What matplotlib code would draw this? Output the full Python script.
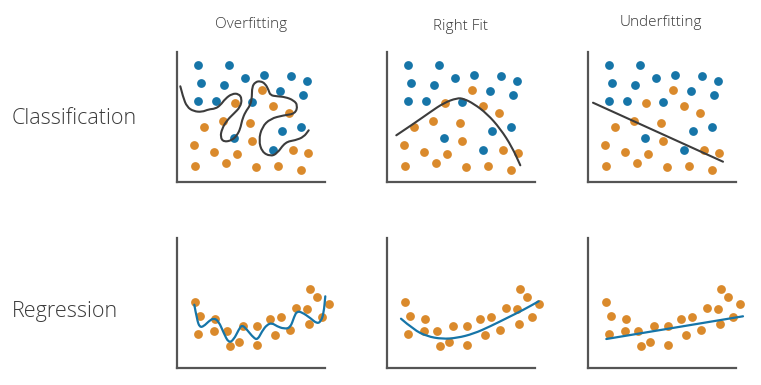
"""
Overfitting / right fit / underfitting for classification and regression.
"""
import matplotlib.pyplot as plt
from matplotlib.path import Path
from matplotlib.patches import PathPatch

# ── Data (panel units: x 0..148, y 0..130) ────────────────────────────────────
col_titles = ["Overfitting", "Right Fit", "Underfitting"]
row_titles = ["Classification", "Regression"]

blue_x = [20.7, 52.3, 24.0, 47.3, 68.3, 86.7, 114.0, 130.0, 102.7, 126.0,
          20.7, 39.3, 75.0, 105.0, 124.3, 56.7, 96.0]
blue_y = [116.7, 116.7, 99.0, 96.7, 104.3, 106.7, 106.0, 101.0, 91.0, 87.3,
          80.7, 80.7, 80.0, 51.0, 55.0, 44.0, 31.7]
orange_x = [85.0, 58.3, 95.7, 112.3, 27.3, 46.0, 72.7, 17.3, 75.0, 37.3,
            60.0, 115.7, 131.0, 18.3, 49.3, 79.3, 101.0, 124.3]
orange_y = [92.3, 79.0, 76.3, 69.3, 55.0, 61.0, 59.0, 36.7, 40.7, 30.0,
            27.7, 31.7, 29.3, 16.0, 19.0, 15.0, 15.7, 12.0]

# classification boundaries (control points)
over_cx = [3.3, 6.0, 10.0, 16.7, 25.0, 31.7, 38.3, 43.3, 48.3, 55.0, 61.7, 65.0,
           63.3, 56.7, 50.0, 45.0, 43.3, 46.7, 55.0, 60.0, 63.3, 65.0, 68.3, 73.3,
           75.0, 75.0, 78.3, 83.3, 88.3, 91.7, 93.3, 100.0, 108.3, 116.7, 120.7,
           118.3, 106.7, 93.3, 85.0, 81.7, 85.0, 93.3, 100.0, 108.3, 118.3, 126.7,
           131.7]
over_cy = [95.7, 85.0, 75.0, 70.7, 70.0, 72.7, 73.3, 76.7, 83.3, 88.3, 88.3, 83.3,
           75.0, 68.3, 61.7, 53.3, 45.0, 40.0, 41.7, 46.7, 53.3, 61.7, 70.0, 76.7,
           85.0, 95.0, 100.0, 101.0, 98.3, 91.7, 86.7, 85.7, 85.0, 81.7, 76.7,
           68.3, 66.7, 63.3, 55.0, 41.7, 30.0, 25.7, 28.3, 40.0, 41.7, 45.0,
           51.7]
right_cx = [9.3, 26.7, 43.3, 56.7, 70.0, 76.7, 86.7, 100.0, 113.3, 125.0, 133.3]
right_cy = [46.7, 58.3, 70.0, 79.0, 84.0, 83.3, 78.3, 68.3, 53.3, 35.0, 16.7]
under_cx = [5.0, 135.0]
under_cy = [79.3, 20.3]

# regression points
reg_x = [18.3, 23.3, 21.0, 38.3, 37.3, 50.0, 52.7, 61.7, 65.7, 80.0, 80.0,
         93.3, 97.7, 104.0, 113.3, 119.0, 130.0, 132.3, 132.7, 140.0, 145.0, 151.7]
reg_y = [66.0, 51.7, 34.3, 49.0, 36.7, 37.3, 21.7, 25.7, 42.3, 41.7, 22.7,
         49.0, 33.3, 51.0, 38.3, 60.0, 59.0, 44.0, 79.3, 71.0, 51.0, 63.7]

# regression fits (control points)
over_rx = [17.3, 20.0, 22.7, 26.7, 31.7, 36.7, 41.7, 46.7, 51.7, 56.7, 61.7, 65.0,
           70.0, 76.7, 80.7, 85.0, 90.0, 95.0, 100.0, 106.7, 113.3, 117.3, 120.0,
           125.0, 133.3, 140.0, 144.0, 146.7, 148.3]
over_ry = [63.3, 48.3, 40.7, 41.7, 46.7, 50.0, 46.7, 35.0, 25.0, 28.3, 38.3, 43.3,
           38.3, 30.0, 28.3, 36.7, 43.3, 45.0, 41.7, 39.3, 40.0, 51.7, 56.7,
           55.7, 50.0, 44.3, 46.7, 55.0, 71.7]
right_rx = [14.0, 26.7, 40.0, 55.0, 70.0, 86.7, 103.3, 120.0, 136.7, 151.7]
right_ry = [49.3, 38.3, 31.7, 29.0, 30.0, 34.3, 41.7, 50.0, 58.3, 66.7]
under_rx = [18.3, 155.0]
under_ry = [29.0, 51.7]

# ── Style ─────────────────────────────────────────────────────────────────────
BLUE = "#1675a8"
ORANGE = "#da8a2c"
DARK = "#3c3c3c"
TEXT = "#3a3a3a"
FONT = ["Open Sans", "DejaVu Sans"]

W, H = 761, 385
fig = plt.figure(figsize=(W / 100, H / 100), dpi=100)
fig.patch.set_facecolor("white")

col_x = [177, 387, 588]
row_top = [52, 238]
PW, PH = 148, 130


def panel(px, ptop):
    ax = fig.add_axes([px / W, 1 - (ptop + PH) / H, PW / W, PH / H])
    ax.set_xlim(0, 148)
    ax.set_ylim(0, 130)
    ax.set_xticks([])
    ax.set_yticks([])
    for s in ("top", "right"):
        ax.spines[s].set_visible(False)
    for s in ("left", "bottom"):
        ax.spines[s].set_color("#555555")
        ax.spines[s].set_linewidth(1.6)
    ax.patch.set_alpha(0)
    return ax


def smooth_line(ax, xs, ys, color, lw):
    # quadratic bezier through the midpoints, control points as given
    pts = list(zip(xs, ys))
    if len(pts) < 3:
        ax.plot(xs, ys, color=color, lw=lw, solid_capstyle="round",
                zorder=4, clip_on=False)
        return
    verts = [pts[0]]
    codes = [Path.MOVETO]
    for i in range(1, len(pts) - 1):
        mid = ((pts[i][0] + pts[i + 1][0]) / 2, (pts[i][1] + pts[i + 1][1]) / 2)
        verts += [pts[i], mid]
        codes += [Path.CURVE3, Path.CURVE3]
    verts.append(pts[-1])
    codes.append(Path.LINETO)
    ax.add_patch(PathPatch(Path(verts, codes), facecolor="none", edgecolor=color,
                           lw=lw, capstyle="round", joinstyle="round",
                           zorder=4, clip_on=False))


# ── Classification row ────────────────────────────────────────────────────────
class_lines = [(over_cx, over_cy), (right_cx, right_cy), (under_cx, under_cy)]
for i, (lx, ly) in enumerate(class_lines):
    ax = panel(col_x[i], row_top[0])
    ax.scatter(blue_x, blue_y, s=40, color=BLUE, lw=0, zorder=3, clip_on=False)
    ax.scatter(orange_x, orange_y, s=40, color=ORANGE, lw=0, zorder=3, clip_on=False)
    smooth_line(ax, lx, ly, DARK, 1.5)

# ── Regression row ────────────────────────────────────────────────────────────
reg_lines = [(over_rx, over_ry), (right_rx, right_ry), (under_rx, under_ry)]
for i, (lx, ly) in enumerate(reg_lines):
    ax = panel(col_x[i], row_top[1])
    ax.scatter(reg_x, reg_y, s=40, color=ORANGE, lw=0, zorder=3, clip_on=False)
    smooth_line(ax, lx, ly, BLUE, 1.6)

# ── Labels ────────────────────────────────────────────────────────────────────
title_pos = [(251, 25), (461, 26), (661, 22)]
for (tx, ty), t in zip(title_pos, col_titles):
    fig.text(tx / W, 1 - ty / H, t, ha="center", va="center", color=TEXT,
             fontsize=11, family=FONT, fontweight="light")

row_pos = [(12, 119), (12, 312)]
for (tx, ty), t in zip(row_pos, row_titles):
    fig.text(tx / W, 1 - ty / H, t, ha="left", va="center", color=TEXT,
             fontsize=15.5, family=FONT, fontweight="light")

plt.savefig("out.png", dpi=100, facecolor="white")
